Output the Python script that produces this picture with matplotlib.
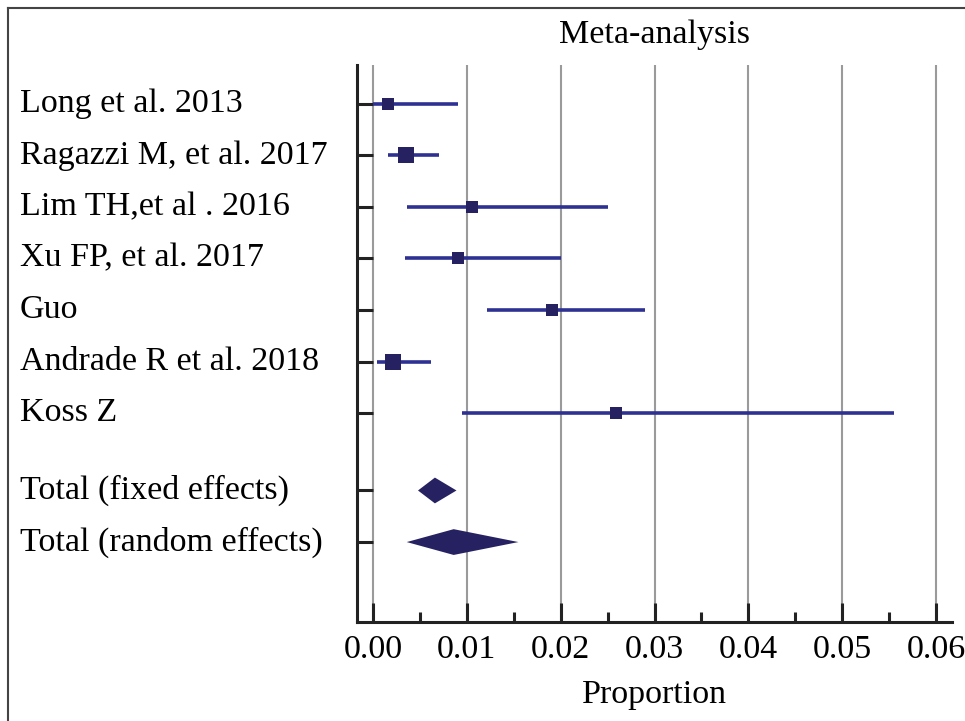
import matplotlib
matplotlib.use("Agg")
import matplotlib.pyplot as plt
from matplotlib.lines import Line2D
from matplotlib.transforms import blended_transform_factory
import numpy as np

# ---- data ----
studies = ["Long et al. 2013", "Ragazzi M, et al. 2017", "Lim TH,et al . 2016",
           "Xu FP, et al. 2017", "Guo", "Andrade R et al. 2018", "Koss Z"]
est = [0.0016, 0.0035, 0.0106, 0.0091, 0.0191, 0.0021, 0.0259]
ci_low = [0.0000, 0.0016, 0.0036, 0.0034, 0.0122, 0.0004, 0.0095]
ci_high = [0.0091, 0.0070, 0.0250, 0.0200, 0.0290, 0.0062, 0.0555]
weights = [12.5, 20.5, 10.5, 12.5, 10.5, 20.5, 12.5]   # relative weight (%)

pooled_labels = ["Total (fixed effects)", "Total (random effects)"]
pooled_est = [0.0066, 0.0086]
pooled_low = [0.0048, 0.0036]
pooled_high = [0.0089, 0.0155]

x_ticks = [0.00, 0.01, 0.02, 0.03, 0.04, 0.05, 0.06]
x_tick_labels = ["0.00", "0.01", "0.02", "0.03", "0.04", "0.05", "0.06"]
title = "Meta-analysis"
x_label = "Proportion"

# ---- style ----
plt.rcParams["font.family"] = ["Liberation Serif", "DejaVu Serif"]
plt.rcParams["font.size"] = 24.5
line_col = "#2e3192"
mark_col = "#262262"

W, H = 965, 721
fig = plt.figure(figsize=(W / 100, H / 100), dpi=100)
ax = fig.add_axes([357 / W, 1 - 622 / H, (952 - 357) / W, (622 - 65) / H])

n = len(studies)
rows = list(range(n))
prow = [n + 0.5, n + 1.5]

# study lines and squares
for i in range(n):
    ax.plot([ci_low[i], ci_high[i]], [rows[i], rows[i]], color=line_col,
            lw=2.6, solid_capstyle="butt", zorder=3)
    side_px = 3.5 * np.sqrt(weights[i])
    ax.plot(est[i], rows[i], marker="s", ms=side_px * 0.72, mew=0,
            color=mark_col, zorder=4)

# pooled diamonds
h = 0.25
for j in range(2):
    xs = [pooled_low[j], pooled_est[j], pooled_high[j], pooled_est[j]]
    ys = [prow[j], prow[j] - h, prow[j], prow[j] + h]
    ax.fill(xs, ys, color=mark_col, lw=0, zorder=4)

ax.set_xlim(-0.0017, 0.0617)
ax.set_ylim(prow[-1] + 1.55, -0.75)

ax.set_xticks(x_ticks)
ax.set_xticklabels(x_tick_labels)
ax.set_xticks(np.arange(0.005, 0.06, 0.01), minor=True)
ax.set_yticks(rows + prow)
ax.set_yticklabels([])

ax.set_axisbelow(True)
ax.xaxis.grid(True, which="major", color="#9a9a9a", lw=1.5)

for s in ["top", "right"]:
    ax.spines[s].set_visible(False)
for s in ["left", "bottom"]:
    ax.spines[s].set_linewidth(2.2)
    ax.spines[s].set_color("#222222")

ax.tick_params(axis="x", which="major", direction="in", length=14, width=2.2,
               color="#222222", pad=9)
ax.tick_params(axis="x", which="minor", direction="in", length=7.5, width=2.2,
               color="#222222")
ax.tick_params(axis="y", which="major", direction="in", length=11.5, width=2.2,
               color="#222222", labelleft=False)

# row labels
trans = blended_transform_factory(fig.transFigure, ax.transData)
for lab, r in zip(studies + pooled_labels, rows + prow):
    ax.text(20 / W, r, lab, transform=trans, ha="left", va="center")

fig.text(654 / W, 1 - 35 / H, title, ha="center", va="center")
fig.text(654 / W, 1 - 695 / H, x_label, ha="center", va="center")

# outer frame (top and left edges visible)
fig.add_artist(Line2D([8 / W, 1.01], [1 - 8 / H, 1 - 8 / H],
                      transform=fig.transFigure, color="#444444", lw=1.5))
fig.add_artist(Line2D([8 / W, 8 / W], [1 - 8 / H, -0.01],
                      transform=fig.transFigure, color="#444444", lw=1.5))

fig.savefig("out.png", dpi=100)
